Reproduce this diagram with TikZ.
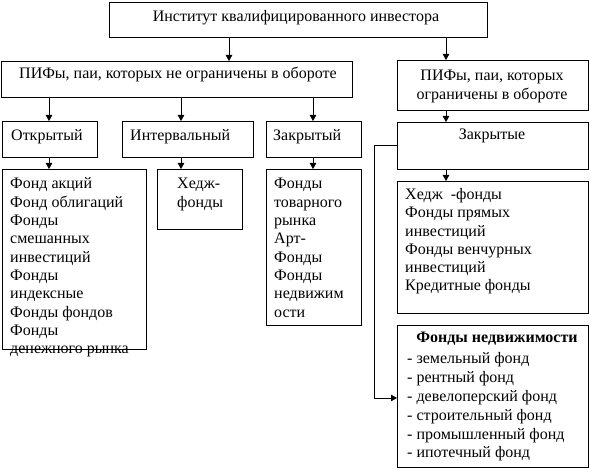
\documentclass[tikz,border=0pt]{standalone}
\usepackage{fontspec}
\setmainfont{Liberation Serif}
\usetikzlibrary{arrows.meta}
\begin{document}
\begin{tikzpicture}[x=1pt,y=-1pt,
  box/.style={draw, line width=0.9pt, anchor=north west, inner sep=0, outer sep=0},
  arr/.style={line width=0.9pt, -{Triangle[length=6pt,width=6.5pt]}},
  txt/.style={anchor=base west, inner sep=0, align=left, font=\fontsize{16}{18.3}\selectfont},
  ctxt/.style={anchor=base, inner sep=0, align=center, font=\fontsize{16}{19.5}\selectfont}]
\useasboundingbox (0,0) rectangle (590,470);
% boxes
\node[box, minimum width=378, minimum height=35] (top) at (109,2) {};
\node[box, minimum width=351, minimum height=36] (L1) at (1,61) {};
\node[box, minimum width=191, minimum height=50] (R1) at (397,60) {};
\node[box, minimum width=95, minimum height=36] (opn) at (2,121) {};
\node[box, minimum width=131, minimum height=36] (intv) at (122,121) {};
\node[box, minimum width=95, minimum height=36] (clo) at (266,121) {};
\node[box, minimum width=191, minimum height=47] (zak) at (397,122) {};
\node[box, minimum width=144, minimum height=180] (B1) at (2,169) {};
\node[box, minimum width=85, minimum height=60] (B2) at (157,169) {};
\node[box, minimum width=95, minimum height=156] (B3) at (266,169) {};
\node[box, minimum width=191, minimum height=132] (R2) at (397,181) {};
\node[box, minimum width=191, minimum height=142] (R3) at (397,325) {};
% texts (base anchor = baseline of the last line)
\node[ctxt] (ttop) at (296,22) {Институт квалифицированного инвестора};
\node[ctxt] (tL1) at (178,79) {ПИФы, паи, которых не ограничены в обороте};
\node[ctxt] (tR1) at (492,100) {ПИФы, паи, которых\\ограничены в обороте};
\node[txt] (topn) at (11,141) {Открытый};
\node[txt] (tint) at (130,141) {Интервальный};
\node[txt] (tclo) at (273,141) {Закрытый};
\node[ctxt] (tzak) at (492,140) {Закрытые};
\node[txt] (tB1) at (10,353.7) {Фонд акций\\Фонд облигаций\\Фонды\\смешанных\\инвестиций\\Фонды\\индексные\\Фонды фондов\\Фонды\\денежного рынка};
\node[txt] (tB2) at (177,207.3) {Хедж-\\фонды};
\node[txt] (tB3) at (274,317.1) {Фонды\\товарного\\рынка\\Арт-\\Фонды\\Фонды\\недвижим\\ости};
\node[txt] (tR2) at (405,291) {Хедж~~-фонды\\Фонды прямых\\инвестиций\\Фонды венчурных\\инвестиций\\Кредитные фонды};
\node[ctxt] (tR3h) at (497,343) {\bfseries Фонды недвижимости};
\node[txt, font=\fontsize{16}{18.8}\selectfont] (tR3) at (407,458) {- земельный фонд\\- рентный фонд\\- девелоперский фонд\\- строительный фонд\\- промышленный фонд\\- ипотечный фонд};
% helper coordinates
\coordinate (x230) at (229,0);
\coordinate (x446) at (446,0);
\coordinate (x49) at (49,0);
\coordinate (x181) at (181,0);
\coordinate (x313) at (313,0);
\coordinate (y398) at (0,398);
\coordinate (x374) at (374,0);
% connectors
\draw[arr] (top.south -| x230) -- (L1.north -| x230);
\draw[arr] (top.south -| x446) -- (R1.north -| x446);
\draw[arr] (L1.south -| x49) -- (opn.north -| x49);
\draw[arr] (L1.south -| x181) -- (intv.north -| x181);
\draw[arr] (L1.south -| x313) -- (clo.north -| x313);
\draw[arr] (R1.south -| x446) -- (zak.north -| x446);
\draw[arr] (opn.south -| x49) -- (B1.north -| x49);
\draw[arr] (intv.south -| x181) -- (B2.north -| x181);
\draw[arr] (clo.south -| x313) -- (B3.north -| x313);
\draw[arr] (zak.south -| x446) -- (R2.north -| x446);
\draw[arr] (zak.west) -| (x374 |- y398) -- (R3.west |- y398);
\end{tikzpicture}
\end{document}
